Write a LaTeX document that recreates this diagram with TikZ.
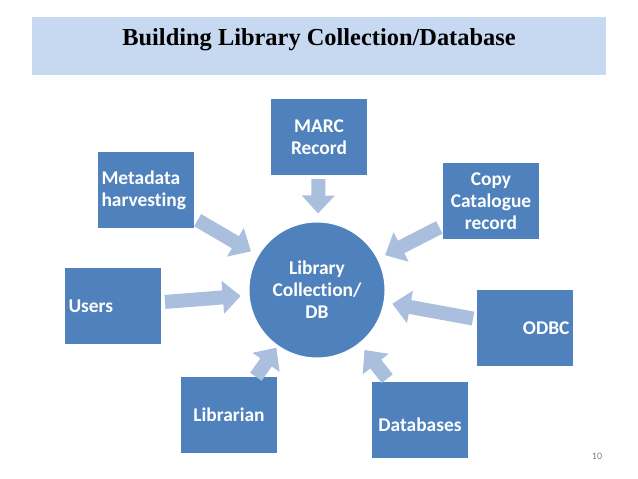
\documentclass[tikz,border=0pt]{standalone}
\usepackage{fontspec}
\setmainfont{Carlito}[Ligatures=NoCommon]
\usetikzlibrary{arrows.meta}
\definecolor{boxblue}{HTML}{4F81BD}
\definecolor{arrowblue}{HTML}{A9BFDD}
\definecolor{bandblue}{HTML}{C6D9F1}
\tikzset{
  srcbox/.style={rectangle,draw=white,line width=1bp,fill=boxblue,text=white,
    font=\fontsize{19.5}{22}\selectfont\bfseries,align=center,
    minimum width=97bp,minimum height=77bp,text width=89bp,inner sep=4bp},
  feed/.style={draw=arrowblue,line width=14bp,shorten <=3bp,shorten >=8bp,
    -{Triangle[length=18bp,width=32bp]}}
}
\begin{document}
\begin{tikzpicture}[x=1bp,y=-1bp]
  \useasboundingbox (0,0) rectangle (638,479);
  \fill[bandblue] (32,17) rectangle (606,75);
  \node[font=\fontspec{Liberation Serif}\fontsize{24.5}{28}\selectfont\bfseries] (title) at (319,40) {Building Library Collection/Database};

  \node[circle,fill=boxblue,draw=white,line width=1bp,minimum size=136bp,text=white,inner sep=0pt,
    font=\fontsize{19.5}{22}\selectfont\bfseries,align=center] (db) at (317,290) {Library\\Collection/\\DB}; % centre
  \node[srcbox] (marc) at (319,137) {MARC\\Record\\[0.6em]};
  \node[srcbox,align=left] (meta) at (146,190) {Metadata\\harvesting\\[0.3em]};
  \node[srcbox] (copy) at (491,201) {Copy\\Catalogue\\record};
  \node[srcbox,align=left] (users) at (113,306) {Users};
  \node[srcbox,align=right] (odbc) at (525,328) {ODBC};
  \node[srcbox] (lib) at (229,415) {Librarian};
  \node[srcbox] (dbs) at (420,420) {\\[0.1em]Databases};

  \draw[feed] (marc) -- (db);
  \draw[feed] (meta) -- (db);
  \draw[feed] (copy) -- (db);
  \draw[feed] (users) -- (db);
  \draw[feed] (odbc) -- (db);
  \draw[feed,shorten <=-1bp,shorten >=2bp] (lib) -- (db);
  \draw[feed] (dbs) -- (db);

  \node[text=gray,font=\fontsize{10}{11}\selectfont] (page) at (597,456) {10};
\end{tikzpicture}
\end{document}
